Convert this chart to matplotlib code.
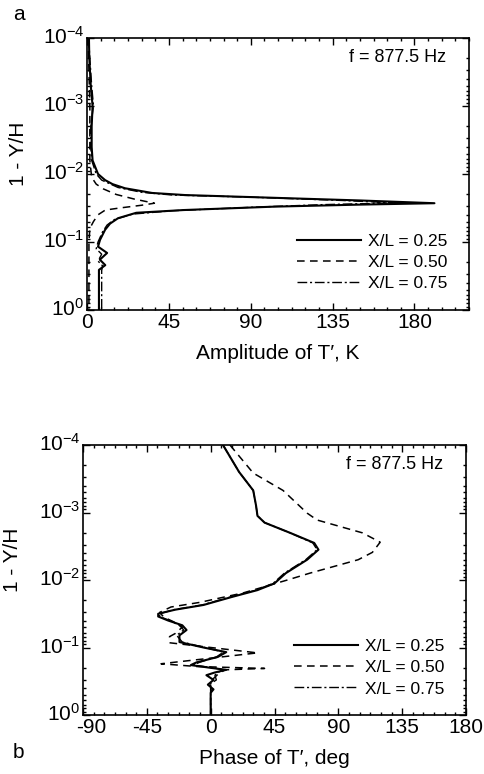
import numpy as np
import matplotlib
matplotlib.use("Agg")
import matplotlib.pyplot as plt
import matplotlib.transforms as mtransforms
from matplotlib.ticker import MultipleLocator, LogLocator, NullFormatter

plt.rcParams["font.family"] = ["Liberation Sans", "DejaVu Sans"]
plt.rcParams["mathtext.fontset"] = "custom"
plt.rcParams["mathtext.rm"] = "Liberation Sans"
plt.rcParams["mathtext.it"] = "Liberation Sans:italic"
plt.rcParams["axes.unicode_minus"] = False

LABELS = ["X/L = 0.25", "X/L = 0.50", "X/L = 0.75"]
FREQ = "f = 877.5 Hz"

# panel a: amplitude of T' (K) vs 1 - Y/H
amp_depth_25 = [1e-4, 2e-4, 5e-4, 1e-3, 2e-3, 4e-3, 6.3e-3, 1e-2, 1.23e-2, 1.41e-2, 1.62e-2, 1.9e-2,
                2.04e-2, 2.24e-2, 2.45e-2, 2.69e-2, 2.82e-2, 3.02e-2, 3.39e-2, 3.72e-2, 4.47e-2, 5.37e-2,
                6.6e-2, 9.3e-2, 0.117, 0.145, 0.182, 0.219, 0.257, 1.0]
amp_25 = [1.0, 1.2, 2.0, 3.0, 2.5, 2.5, 3.0, 6.0, 9.9, 14.0, 20.8, 35.7,
          53.8, 103, 150, 191, 150, 103, 53, 27, 17, 12.6,
          9.9, 7.1, 6.0, 11.0, 7.0, 10.0, 6.5, 6.5]

amp_depth_50 = [1e-4, 3e-4, 1e-3, 3e-3, 6.3e-3, 1.12e-2, 1.41e-2, 1.66e-2, 2.0e-2, 2.34e-2, 2.69e-2,
                2.88e-2, 3.16e-2, 3.39e-2, 3.98e-2, 5.0e-2, 6.3e-2, 0.1, 0.3, 1.0]
amp_50 = [0.5, 1.0, 1.5, 1.5, 1.5, 2.5, 5.0, 9.0, 16.0, 26.0, 37.0,
          30.0, 18.0, 10.0, 6.0, 3.5, 1.5, 1.0, 1.0, 1.0]

amp_depth_75 = [1e-4, 2e-4, 5e-4, 1e-3, 2e-3, 4e-3, 6.3e-3, 1e-2, 1.23e-2, 1.58e-2, 1.86e-2,
                2.04e-2, 2.19e-2, 2.45e-2, 2.66e-2, 2.82e-2, 3.09e-2, 3.47e-2, 3.89e-2, 4.68e-2,
                5.62e-2, 7.08e-2, 0.1, 0.126, 0.151, 0.191, 0.224, 0.263, 1.0]
amp_75 = [0.8, 1.5, 2.5, 3.5, 2.0, 2.0, 2.5, 5.0, 8.0, 17.0, 30.0,
          47.0, 90.0, 140.0, 170.0, 130.0, 90.0, 47.0, 25.0, 15.0,
          11.0, 8.5, 6.0, 5.0, 8.0, 6.0, 8.5, 8.0, 8.0]

# panel b: phase of T' (deg) vs 1 - Y/H
ph_depth_25 = [1e-4, 2.5e-4, 4.7e-4, 7.9e-4, 1.12e-3, 1.41e-3, 2.0e-3, 2.82e-3, 3.55e-3, 5.0e-3,
               7.9e-3, 1.12e-2, 1.41e-2, 1.78e-2, 2.34e-2, 2.75e-2, 3.16e-2, 3.47e-2, 3.98e-2,
               4.68e-2, 5.5e-2, 6.6e-2, 8.3e-2, 0.1, 0.117, 0.138, 0.166, 0.182, 0.2, 0.214,
               0.234, 0.257, 0.302, 0.355, 0.417, 0.468, 1.0]
ph_25 = [8.7, 20, 30, 32, 33, 38, 56, 73, 76, 68,
         53, 45, 33, 15, -5, -25, -37, -37, -30,
         -20, -17, -22, -22, -5, 11, 5, -10, -14, 0, 11,
         3, -3, 2, -2, 2, 0, 0]

ph_depth_50 = [1e-4, 2.6e-4, 4.7e-4, 1.02e-3, 1.29e-3, 2.0e-3, 2.75e-3, 3.89e-3, 5.0e-3, 7.9e-3,
               1e-2, 1.55e-2, 2.14e-2, 2.51e-2, 3.02e-2, 3.55e-2, 4.17e-2, 5.0e-2, 6.2e-2,
               6.9e-2, 8.5e-2, 0.12, 0.174, 0.191, 0.204, 0.214, 0.25, 0.316, 1.0]
ph_50 = [13.6, 30, 51, 68, 75, 107, 119.5, 114, 104, 70,
         54, 23, -7.5, -28, -36, -33, -26, -20, -25,
         -29, -29, 33, -35, -10, 38, 10, 5, 0, 0]

ph_depth_75 = [1e-4, 2.5e-4, 4.7e-4, 7.9e-4, 1.12e-3, 1.41e-3, 2.0e-3, 2.82e-3, 3.55e-3, 5.0e-3,
               7.9e-3, 1.12e-2, 1.41e-2, 1.78e-2, 2.34e-2, 2.75e-2, 3.16e-2, 3.47e-2, 3.98e-2,
               4.68e-2, 5.5e-2, 6.6e-2, 8.3e-2, 0.1, 0.117, 0.138, 0.166, 0.182, 0.2, 0.214,
               0.234, 0.257, 0.302, 0.355, 0.417, 0.468, 1.0]
ph_75 = [8.7, 20, 30, 32, 33, 38, 56, 72, 75, 67,
         52, 44, 32, 14, -6, -26, -36, -36, -29,
         -22, -19, -24, -20, -4, 9, 4, -8, -12, 2, 9,
         5, 3, 4, -1, 1, 0, 0]

YTICKS = [1e-4, 1e-3, 1e-2, 1e-1, 1e0]
YTICKLABELS = [r"$10^{-4}$", r"$10^{-3}$", r"$10^{-2}$", r"$10^{-1}$", r"$10^{0}$"]

STYLES = [dict(ls="-", lw=1.5), dict(ls=(0, (5, 3.5)), lw=1.1), dict(ls=(0, (7, 2, 1.5, 2)), lw=1.0)]


def shift(ax, dx, dy):
    return mtransforms.ScaledTranslation(dx / 100, dy / 100, ax.figure.dpi_scale_trans)


def style_axes(ax, xlim, xticks, xlabel, ylab_x):
    ax.set_yscale("log")
    ax.set_ylim(1, 1e-4)
    ax.set_xlim(*xlim)
    ax.set_xticks(xticks)
    ax.xaxis.set_minor_locator(MultipleLocator(7.5))
    ax.set_yticks(YTICKS)
    ax.set_yticklabels(YTICKLABELS)
    ax.yaxis.set_minor_locator(LogLocator(base=10, subs=np.arange(2, 10)))
    ax.yaxis.set_minor_formatter(NullFormatter())
    ax.tick_params(which="both", direction="in", top=True, right=True, labelsize=15, width=1.0)
    ax.tick_params(which="major", length=5, pad=2)
    ax.tick_params(which="minor", length=2.5)
    # lift the y tick labels a little so 10^0 clears the x tick labels
    for t in ax.get_yticklabels():
        t.set_transform(t.get_transform() + shift(ax, 0, 3))
    for s in ax.spines.values():
        s.set_linewidth(1.2)
    ax.set_xlabel(xlabel, fontsize=15, labelpad=9)
    ax.set_ylabel("1 - Y/H", fontsize=15)
    ax.yaxis.set_label_coords(ylab_x, 0.575)
    ax.text(0.94, 0.96, FREQ, transform=ax.transAxes, ha="right", va="top", fontsize=13)
    ax.legend(loc="lower right", bbox_to_anchor=(0.97, 0.03), frameon=False, fontsize=12.5,
              handlelength=3.7, handletextpad=0.4, labelspacing=0.35, borderaxespad=0.2)


fig = plt.figure(figsize=(4.84, 7.74), dpi=100)

# panel a
ax = fig.add_axes([0.180, 0.5995, 0.789, 0.3514])
for d, v, lab, st in zip([amp_depth_25, amp_depth_50, amp_depth_75], [amp_25, amp_50, amp_75], LABELS, STYLES):
    ax.plot(v, d, color="black", label=lab, **st)
style_axes(ax, (0, 210), [0, 45, 90, 135, 180], "Amplitude of T\u2032, K", -0.154)
fig.text(0.027, 1 - 15 / 774, "a", fontsize=15, va="center")

# panel b
ax = fig.add_axes([0.1715, 0.0762, 0.7913, 0.3488])
for d, v, lab, st in zip([ph_depth_25, ph_depth_50, ph_depth_75], [ph_25, ph_50, ph_75], LABELS, STYLES):
    ax.plot(v, d, color="black", label=lab, **st)
style_axes(ax, (-90, 180), [-90, -45, 0, 45, 90, 135, 180], "Phase of T\u2032, deg", -0.16)
# "-90" sits just inside the corner in the original
first = ax.get_xticklabels()[0]
first.set_transform(first.get_transform() + shift(ax, 8, 0))
fig.text(0.027, 1 - 752 / 774, "b", fontsize=15, va="center")

fig.savefig("out.png", dpi=100)
